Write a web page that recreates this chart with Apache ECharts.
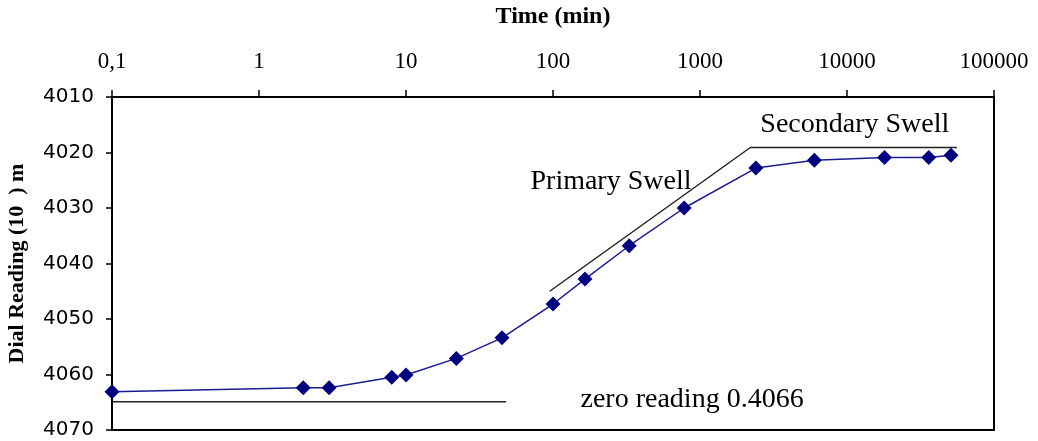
<!DOCTYPE html>
<html>
<head>
<meta charset="utf-8">
<script src="https://cdn.jsdelivr.net/npm/echarts@6/dist/echarts.min.js"></script>
<style>
  html, body { margin: 0; padding: 0; background: #fff; }
  #chart { width: 1038px; height: 441px; }
</style>
</head>
<body>
<div id="chart"></div>
<script>
// swell test readings
const timeMin = [0.1, 2, 3, 8, 10, 22, 45, 100, 165, 330, 780, 2400, 6000, 18000, 36000, 51000];
const dialReading = [4063.1, 4062.4, 4062.4, 4060.5, 4060.1, 4057.1, 4053.4, 4047.3, 4042.8, 4036.8, 4030.0, 4022.8, 4021.4, 4020.9, 4020.9, 4020.5];

// hand drawn guide lines
const zeroLineTime = [0.1, 48];
const zeroLineReading = [4064.9, 4064.9];
const swellLineTime = [95, 2200, 56000];
const swellLineReading = [4045, 4019.1, 4019.1];

// annotation texts
const noteText = ['Primary Swell', 'Secondary Swell', 'zero reading 0.4066'];
const noteTime = [248, 11300, 883];
const noteReading = [4025.3, 4014.9, 4064.6];

const serif = '"Liberation Serif", "Times New Roman", serif';

function pairs(xs, ys) {
    return xs.map((x, i) => [x, ys[i]]);
}

var myChart = echarts.init(document.getElementById('chart'));
var option = {
    animation: false,
    grid: {
        left: 112,
        right: 44,
        top: 97,
        bottom: 11,
        outerBoundsMode: 'none',
        containLabel: false,
        show: true,
        borderColor: '#000',
        borderWidth: 2
    },
    xAxis: {
        type: 'log',
        logBase: 10,
        position: 'top',
        min: 0.1,
        max: 100000,
        interval: 1,
        name: 'Time (min)',
        nameLocation: 'middle',
        nameGap: 68,
        nameTextStyle: { fontFamily: serif, fontWeight: 'bold', fontSize: 24, color: '#000' },
        axisLine: { lineStyle: { color: '#000', width: 2 } },
        axisTick: { length: 7, lineStyle: { color: '#000', width: 1.5 } },
        axisLabel: {
            margin: 24,
            fontFamily: serif,
            fontSize: 23,
            color: '#000',
            formatter: function (v) {
                return String(+Number(v).toPrecision(6)).replace('.', ',');
            }
        },
        splitLine: { show: false },
        minorTick: { show: false }
    },
    yAxis: {
        type: 'value',
        inverse: true,
        min: 4010,
        max: 4070,
        interval: 10,
        name: 'Dial Reading (10  ) m',
        nameLocation: 'middle',
        nameGap: 84,
        nameRotate: 90,
        nameTextStyle: { fontFamily: serif, fontWeight: 'bold', fontSize: 22, color: '#000' },
        axisLine: { show: true, lineStyle: { color: '#000', width: 2 } },
        axisTick: { show: true, length: 6, lineStyle: { color: '#000', width: 1.5 } },
        axisLabel: {
            margin: 18,
            fontFamily: '"DejaVu Sans", sans-serif',
            fontSize: 20,
            color: '#000',
            formatter: v => String(v)
        },
        splitLine: { show: false }
    },
    series: [
        {
            type: 'line',
            data: pairs(zeroLineTime, zeroLineReading),
            symbol: 'none',
            silent: true,
            lineStyle: { color: '#222', width: 1.5 }
        },
        {
            type: 'line',
            data: pairs(swellLineTime, swellLineReading),
            symbol: 'none',
            silent: true,
            lineStyle: { color: '#222', width: 1.5 }
        },
        {
            type: 'line',
            name: 'Dial Reading',
            data: pairs(timeMin, dialReading),
            symbol: 'diamond',
            symbolSize: [15, 15],
            itemStyle: { color: '#000080' },
            lineStyle: { color: '#1c1c90', width: 1.5 }
        },
        {
            type: 'scatter',
            silent: true,
            symbolSize: 0,
            itemStyle: { opacity: 1 },
            data: noteText.map((t, i) => ({ name: t, value: [noteTime[i], noteReading[i]] })),
            label: {
                show: true,
                position: 'inside',
                formatter: p => p.name,
                fontFamily: serif,
                fontSize: 28,
                color: '#000',
                opacity: 1,
                textBorderWidth: 0
            }
        }
    ]
};
myChart.setOption(option);
window.addEventListener('resize', () => {
    myChart.resize()
})
</script>
</body>
</html>
